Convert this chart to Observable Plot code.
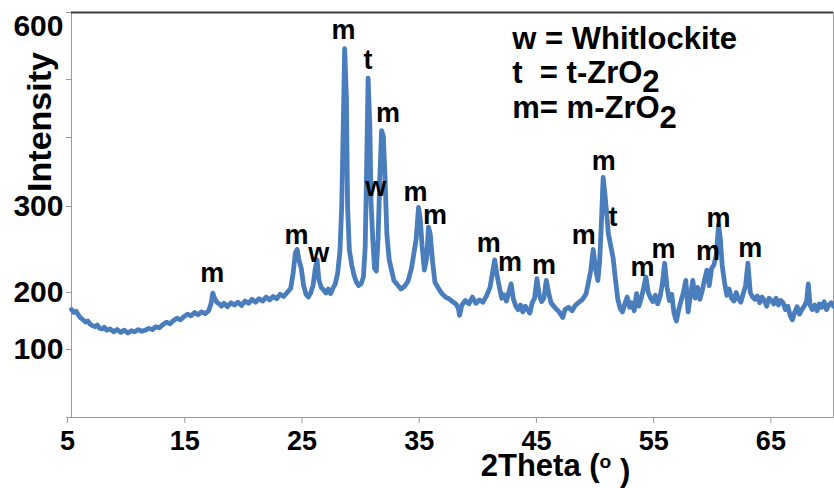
<!DOCTYPE html>
<html><head><meta charset="utf-8">
<script src="https://cdn.jsdelivr.net/npm/d3@7"></script>
<script src="https://cdn.jsdelivr.net/npm/@observablehq/plot@0.6"></script>
<style>
body{margin:0;background:#fff;}
#chart svg{display:block;background:#fff;}
</style>
</head><body><div id="chart"></div>
<script>
const twoTheta = [5.0,5.2,5.4,5.6,5.8,6.0,6.2,6.4,6.6,6.8,7.0,7.2,7.4,7.6,7.8,8.0,8.3,8.6,8.9,9.2,9.5,9.8,10.1,10.4,10.7,11.0,11.3,11.6,11.9,12.2,12.5,12.8,13.1,13.4,13.7,14.0,14.3,14.6,14.9,15.2,15.5,15.8,16.1,16.4,16.7,16.9,17.05,17.2,17.4,17.6,17.8,18.0,18.3,18.6,18.9,19.2,19.5,19.8,20.1,20.4,20.7,21.0,21.3,21.6,21.9,22.2,22.5,22.8,23.1,23.4,23.7,23.9,24.1,24.25,24.4,24.6,24.8,25.0,25.2,25.4,25.6,25.8,25.95,26.1,26.3,26.5,26.7,26.9,27.1,27.3,27.5,27.7,27.9,28.05,28.2,28.3,28.45,28.55,28.7,28.9,29.1,29.3,29.5,29.7,29.9,30.05,30.15,30.3,30.45,30.55,30.7,30.85,31.0,31.15,31.3,31.45,31.6,31.75,31.9,32.1,32.3,32.5,32.8,33.1,33.4,33.7,34.0,34.2,34.4,34.6,34.75,34.9,35.1,35.3,35.45,35.6,35.8,36.0,36.3,36.6,36.9,37.2,37.5,37.8,38.0,38.1,38.3,38.6,38.9,39.2,39.5,39.8,40.1,40.4,40.7,40.9,41.1,41.3,41.5,41.7,41.9,42.1,42.3,42.5,42.7,42.9,43.1,43.3,43.5,43.7,43.9,44.1,44.3,44.5,44.7,44.9,45.1,45.3,45.5,45.7,45.9,46.1,46.3,46.6,46.9,47.1,47.4,47.7,48.0,48.3,48.6,48.9,49.1,49.3,49.5,49.7,49.9,50.05,50.2,50.35,50.5,50.65,50.8,51.0,51.2,51.4,51.6,51.8,52.0,52.2,52.4,52.6,52.8,53.0,53.2,53.4,53.6,53.8,54.0,54.2,54.4,54.6,54.8,55.0,55.2,55.4,55.6,55.8,56.0,56.2,56.4,56.6,56.8,57.0,57.2,57.4,57.6,57.8,58.0,58.2,58.4,58.6,58.8,59.0,59.2,59.4,59.6,59.8,60.0,60.2,60.35,60.5,60.7,60.9,61.1,61.3,61.5,61.7,61.9,62.1,62.3,62.5,62.7,62.9,63.1,63.3,63.5,63.7,63.9,64.1,64.3,64.5,64.7,64.9,65.1,65.3,65.5,65.7,65.9,66.1,66.3,66.5,66.7,66.9,67.1,67.3,67.5,67.7,67.85,68.0,68.2,68.4,68.6,68.8,69.0,69.2,69.4,69.6,69.8,70.0];
const intensity = [170,165,167,160,155,152,148,150,144,142,140,143,137,136,139,134,136,131,135,130,134,129,133,131,135,132,134,137,135,140,138,144,148,145,151,155,152,158,162,159,165,161,166,163,168,180,199,190,183,180,176,181,175,182,178,183,177,185,181,188,183,189,185,192,187,193,189,197,193,200,205,222,246,250,238,228,208,197,192,199,208,228,238,215,206,203,199,204,198,205,210,222,248,300,440,546,470,300,250,232,220,212,208,210,218,252,330,502,420,306,262,228,225,262,340,412,402,340,268,238,226,214,209,204,207,213,228,245,262,299,286,255,226,240,276,268,236,212,205,198,192,189,184,180,172,160,178,186,180,192,181,187,183,194,206,222,238,220,206,190,196,185,200,210,188,176,170,178,166,176,170,164,182,190,216,196,184,190,214,200,182,177,172,166,156,170,174,168,178,183,188,198,212,226,250,228,214,236,280,342,318,292,268,254,240,215,188,172,166,180,192,174,182,168,198,176,190,205,218,200,190,184,195,180,192,210,234,206,186,197,163,150,170,186,200,214,166,196,214,190,206,188,202,215,226,208,228,232,244,279,262,232,212,195,204,190,185,200,188,183,198,208,234,200,192,188,194,182,192,186,176,190,186,180,190,178,186,182,170,176,160,152,166,175,162,170,176,184,210,178,170,178,168,180,174,184,170,178,182,176];

const peakLetters = ["m","m","w","m","t","m","w","m","m","m","m","m","m","m","t","m","m","m","m","m"];
const peakX = [17.0,24.2,26.1,28.2,30.3,32.0,30.95,34.35,36.0,40.6,42.4,45.3,48.7,50.4,51.2,53.7,55.5,59.3,60.2,62.9];
const peakY = [222,266,246,573,529,441,328,320,290,257,235,231,266,366,287,229,250,248,286,251];

const xTicks = [5,15,25,35,45,55,65];
const yTicks = [0,100,200,300,400,500,600];
const yLabelled = [100,200,300];
const yTop = [600];
const legendLines = ["w = Whitlockite","t  = t-ZrO","m= m-ZrO"];
const legendX = [42.6,42.6,42.6];
const legendY = [561,510,450];
const xTitle = "2Theta (";
const yTitle = "Intensity";

const data = twoTheta.map((x,i)=>({x, y: intensity[i]}));
const peaks = peakLetters.map((t,i)=>({t, x: peakX[i], y: peakY[i]}));
const legend = legendLines.map((t,i)=>({t, x: legendX[i], y: legendY[i]}));

const font = "Liberation Sans, Arial, Helvetica, sans-serif";

const chart = Plot.plot({
  width: 834, height: 488,
  marginLeft: 71, marginTop: 12, marginBottom: 71, marginRight: 1,
  style: {background: "#fff", color: "#000"},
  x: {domain: [5, 70]},
  y: {type: "linear", domain: yTicks, range: [417,349,292,206,137,79,12]},
  marks: [
    Plot.frame({stroke: "#9a9a9a"}),
    Plot.ruleY(yTop, {stroke: "#3a3a3a", strokeWidth: 2}),
    Plot.axisY(yTicks, {tickSize: 5, tickFormat: () => "", stroke: "#9a9a9a", label: null}),
    Plot.axisY(yLabelled, {tickSize: 0, tickPadding: 8, label: null, fontSize: 30, fontWeight: "bold", fontFamily: font}),
    Plot.axisY(yTop, {tickSize: 0, tickPadding: 8, label: null, dy: 14, fontSize: 30, fontWeight: "bold", fontFamily: font}),
    Plot.axisX(xTicks, {tickSize: 6, tickPadding: 7, stroke: "#9a9a9a", label: null, fontSize: 27, fontWeight: "bold", fontFamily: font, dx: -4}),
    Plot.text([xTitle], {frameAnchor: "bottom", textAnchor: "middle", lineAnchor: "middle", dx: 103, dy: 49, fontSize: 31, fontWeight: "bold", fontFamily: font}),
    Plot.text([yTitle], {frameAnchor: "left", textAnchor: "middle", lineAnchor: "middle", rotate: -90, dx: -31, dy: -93, fontSize: 34, fontWeight: "bold", fontFamily: font}),
    Plot.line(data, {x: "x", y: "y", stroke: "#4a7dbb", strokeWidth: 4.8, strokeLinejoin: "round"}),
    Plot.text(peaks, {x: "x", y: "y", text: "t", fontSize: 27, fontWeight: "bold", fontFamily: font, fill: "#000"}),
    Plot.text(legend, {x: "x", y: "y", text: "t", textAnchor: "start", fontSize: 31, fontWeight: "bold", fontFamily: font, fill: "#000"})
  ]
});
document.getElementById("chart").appendChild(chart);
const svg = d3.select(chart);
svg.selectAll("text").filter(function(){ return this.textContent.endsWith("ZrO"); })
  .append("tspan").attr("dy", "0.3em").text("2");
svg.selectAll("text").filter(function(){ return this.textContent === xTitle; })
  .each(function(){
    const t = d3.select(this);
    t.append("tspan").attr("dy", "-0.42em").attr("font-size", "62%").text("o");
    t.append("tspan").attr("dy", "0.42em").text(" )");
  });
</script>
</body></html>
